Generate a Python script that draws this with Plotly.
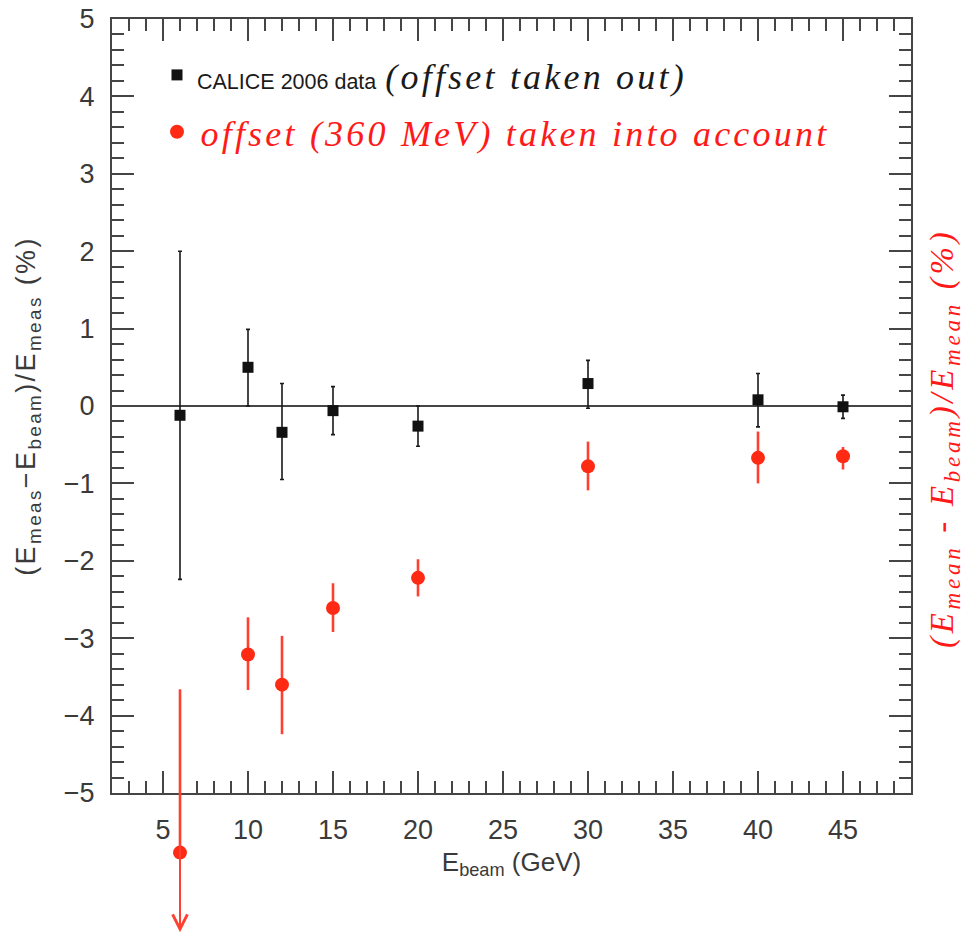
import plotly.graph_objects as go

# ---------------- data ----------------
E_BEAM = [6, 10, 12, 15, 20, 30, 40, 45]

# CALICE 2006 data (offset taken out)
BLACK_Y = [-0.12, 0.50, -0.34, -0.06, -0.26, 0.29, 0.08, -0.01]
BLACK_ERR_UP = [2.12, 0.49, 0.63, 0.31, 0.26, 0.30, 0.34, 0.15]
BLACK_ERR_DOWN = [2.12, 0.50, 0.61, 0.31, 0.26, 0.32, 0.35, 0.15]

# offset (360 MeV) taken into account
RED_Y = [-5.77, -3.21, -3.60, -2.61, -2.22, -0.78, -0.67, -0.65]
RED_ERR_UP = [2.11, 0.48, 0.63, 0.32, 0.24, 0.32, 0.34, 0.12]
RED_ERR_DOWN = [0.0, 0.46, 0.64, 0.31, 0.24, 0.31, 0.33, 0.17]
ARROW_TIP = -6.8  # lower error of the 6 GeV point runs off the scale (arrow)

X_TICKS = [5, 10, 15, 20, 25, 30, 35, 40, 45]
Y_TICKS = [-5, -4, -3, -2, -1, 0, 1, 2, 3, 4, 5]
X_RANGE = [2, 49]
Y_RANGE = [-5, 5]

# ---------------- geometry / style ----------------
W, H = 964, 936
M_L, M_R, M_T = 112, 53, 19
AXIS_BOTTOM = 793              # bottom of the framed plot (px)
M_B = 0                        # plot area extends to figure bottom (for off-scale point)
plot_w = W - M_L - M_R
plot_h = H - M_T - M_B
dom_bottom = (H - AXIS_BOTTOM - M_B) / plot_h
# hidden second y axis spanning the whole height with the same pixel scale
span = Y_RANGE[1] - Y_RANGE[0]
y2_bottom = Y_RANGE[0] - span * dom_bottom / (1 - dom_bottom)

AXIS_COLOR = "#454545"
RED = "#ff2a14"
SERIF = "Liberation Serif"
SANS = "Liberation Sans"
LS = "letter-spacing:3.2px"

fig = go.Figure()

fig.add_trace(go.Scatter(
    x=E_BEAM, y=BLACK_Y, mode="markers",
    marker=dict(symbol="square", size=11, color="#111111"),
    error_y=dict(type="data", symmetric=False, array=BLACK_ERR_UP,
                 arrayminus=BLACK_ERR_DOWN, color="#1a1a1a", thickness=1.6, width=2),
    name=("<span style='font-family:Liberation Sans;font-size:21.5px;font-style:normal'>"
          "CALICE 2006 data</span> "
          f"<span style='{LS}'><i>(offset taken out)</i></span>"),
    legendgroup="a", xaxis="x", yaxis="y",
))

fig.add_trace(go.Scatter(
    x=E_BEAM, y=RED_Y, mode="markers",
    marker=dict(symbol="circle", size=14, color=RED),
    error_y=dict(type="data", symmetric=False, array=RED_ERR_UP,
                 arrayminus=RED_ERR_DOWN, color="#ff4030", thickness=2.6, width=0),
    name=(f"<span style='font-size:14px'> </span>"
          f"<span style='color:#ff1a1a;{LS}'><i>offset (360 MeV) taken into account</i></span>"),
    legendgroup="b", xaxis="x", yaxis="y2",
))

# off-scale arrow for the 6 GeV point
fig.add_annotation(
    x=E_BEAM[0], y=ARROW_TIP, ax=E_BEAM[0], ay=RED_Y[0] + RED_ERR_UP[0],
    xref="x", yref="y2", axref="x", ayref="y2",
    text="", showarrow=True, arrowhead=5, arrowsize=1.45, arrowwidth=2,
    arrowcolor="#ff4030",
)

# right-hand axis title
fig.add_annotation(
    x=(944 - M_L) / plot_w, y=1 - (439 - M_T) / plot_h,
    xref="paper", yref="paper",
    text=("<span style='letter-spacing:3.7px'><i>(E<sub>mean</sub> - E<sub>beam</sub>)"
          "/E<sub>mean</sub> (%)</i></span>"),
    textangle=-90, showarrow=False,
    font=dict(family=SERIF, size=33, color="#ff1a1a"),
    xanchor="center", yanchor="middle",
)

axis_common = dict(
    showline=True, linecolor=AXIS_COLOR, linewidth=2, mirror="ticks",
    ticks="inside", tickcolor=AXIS_COLOR, tickwidth=2, ticklen=22,
    showgrid=False, automargin=False, ticklabeloverflow="allow",
    tickfont=dict(family=SANS, size=27, color="#3a3a3a"),
)

fig.update_layout(
    width=W, height=H,
    margin=dict(l=M_L, r=M_R, t=M_T, b=M_B),
    paper_bgcolor="white", plot_bgcolor="rgba(0,0,0,0)",
    showlegend=True,
    legend=dict(
        x=(157 - M_L) / plot_w, y=1 - 26 / plot_h, xanchor="left", yanchor="top",
        bgcolor="rgba(0,0,0,0)", borderwidth=0,
        font=dict(family=SERIF, size=36, color="#1a1a1a"),
        traceorder="grouped", tracegroupgap=7,
        itemclick=False,
    ),
    xaxis=dict(
        range=X_RANGE, tickvals=X_TICKS, **axis_common, anchor="y",
        minor=dict(dtick=1, tick0=0, ticks="inside", ticklen=12, tickwidth=2,
                   tickcolor=AXIS_COLOR, showgrid=False),
        ticklabelstandoff=12,
        title=dict(text="E<sub>beam</sub> (GeV)", standoff=8,
                   font=dict(family=SANS, size=26, color="#3a3a3a")),
        zeroline=False,
    ),
    yaxis=dict(
        range=Y_RANGE, tickvals=Y_TICKS, **axis_common, domain=[dom_bottom, 1],
        anchor="x",
        minor=dict(dtick=0.2, tick0=0, ticks="inside", ticklen=12, tickwidth=2,
                   tickcolor=AXIS_COLOR, showgrid=False),
        ticklabelstandoff=10,
        zeroline=True, zerolinecolor=AXIS_COLOR, zerolinewidth=2,
        title=dict(text="<span style='letter-spacing:2.4px'>(E<sub>meas</sub>−E<sub>beam</sub>)/E<sub>meas</sub> (%)</span>",
                   standoff=20, font=dict(family=SANS, size=27, color="#3a3a3a")),
    ),
    yaxis2=dict(
        range=[y2_bottom, Y_RANGE[1]], domain=[0, 1], anchor="x",
        visible=False, showgrid=False, zeroline=False, fixedrange=True,
    ),
)

# remove the browser's default 8px body margin so the figure fills the window
fig.write_html("out.html",
               config={"displayModeBar": False},
               post_script="document.body.style.margin='0';document.body.style.overflow='hidden';")
